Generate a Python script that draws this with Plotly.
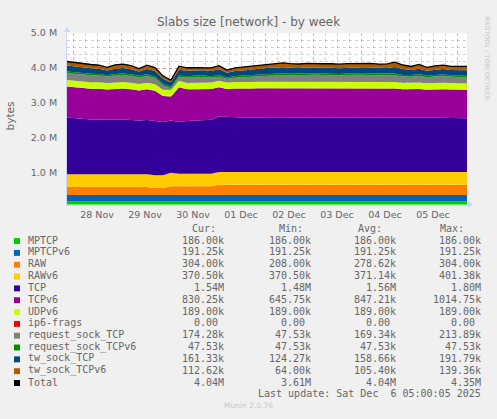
import numpy as np
import pandas as pd
import plotly.graph_objects as go

W, H = 497, 419

# one sample every 4 hours, Nov 27 21:00 -> Dec 6 05:00 (values in k, base 1024)
times = pd.date_range("2025-11-27 21:00", periods=51, freq="4h")

mptcp = [186.0, 186.0, 186.0, 186.0, 186.0, 186.0, 186.0, 186.0, 186.0, 186.0,
         186.0, 186.0, 186.0, 186.0, 186.0, 186.0, 186.0, 186.0, 186.0, 186.0,
         186.0, 186.0, 186.0, 186.0, 186.0, 186.0, 186.0, 186.0, 186.0, 186.0,
         186.0, 186.0, 186.0, 186.0, 186.0, 186.0, 186.0, 186.0, 186.0, 186.0,
         186.0, 186.0, 186.0, 186.0, 186.0, 186.0, 186.0, 186.0, 186.0, 186.0,
         186.0]
mptcpv6 = [191.25, 191.25, 191.25, 191.25, 191.25, 191.25, 191.25, 191.25, 191.25, 191.25,
           191.25, 191.25, 191.25, 191.25, 191.25, 191.25, 191.25, 191.25, 191.25, 191.25,
           191.25, 191.25, 191.25, 191.25, 191.25, 191.25, 191.25, 191.25, 191.25, 191.25,
           191.25, 191.25, 191.25, 191.25, 191.25, 191.25, 191.25, 191.25, 191.25, 191.25,
           191.25, 191.25, 191.25, 191.25, 191.25, 191.25, 191.25, 191.25, 191.25, 191.25,
           191.25]
raw = [240, 240, 240, 240, 240, 240, 240, 240, 240, 240,
       240, 208, 208, 256, 256, 256, 256, 256, 256, 304,
       304, 304, 304, 304, 304, 304, 304, 304, 304, 304,
       304, 304, 304, 304, 304, 304, 304, 304, 304, 304,
       304, 304, 304, 304, 304, 304, 304, 304, 304, 304,
       304]
rawv6 = [370.5, 370.5, 370.5, 370.5, 370.5, 370.5, 370.5, 370.5, 370.5, 370.5,
         370.5, 370.5, 370.5, 401.38, 370.5, 370.5, 370.5, 370.5, 370.5, 370.5,
         370.5, 370.5, 370.5, 370.5, 370.5, 370.5, 370.5, 370.5, 370.5, 370.5,
         370.5, 370.5, 370.5, 370.5, 370.5, 370.5, 370.5, 370.5, 370.5, 370.5,
         370.5, 370.5, 370.5, 370.5, 370.5, 370.5, 370.5, 370.5, 370.5, 370.5,
         370.5]
tcp = [1660, 1640, 1610, 1600, 1605, 1590, 1595, 1600, 1590, 1575,
       1590, 1585, 1560, 1530, 1515, 1540, 1560, 1575, 1580, 1625,
       1610, 1600, 1595, 1600, 1605, 1600, 1598, 1602, 1596, 1600,
       1598, 1603, 1600, 1597, 1595, 1600, 1602, 1598, 1600, 1596,
       1600, 1604, 1598, 1590, 1595, 1588, 1592, 1590, 1585, 1580,
       1577]
tcpv6 = [910, 900, 915, 905, 900, 890, 905, 910, 900, 880,
         900, 890, 760, 700, 1014.75, 930, 915, 905, 900, 860,
         820, 845, 845, 845, 850, 855, 858, 852, 850, 845,
         855, 850, 848, 852, 845, 850, 855, 850, 848, 852,
         850, 845, 825, 840, 835, 820, 830, 838, 835, 832,
         830]
udpv6 = [189.0, 189.0, 189.0, 189.0, 189.0, 189.0, 189.0, 189.0, 189.0, 189.0,
         189.0, 189.0, 189.0, 189.0, 189.0, 189.0, 189.0, 189.0, 189.0, 189.0,
         189.0, 189.0, 189.0, 189.0, 189.0, 189.0, 189.0, 189.0, 189.0, 189.0,
         189.0, 189.0, 189.0, 189.0, 189.0, 189.0, 189.0, 189.0, 189.0, 189.0,
         189.0, 189.0, 189.0, 189.0, 189.0, 189.0, 189.0, 189.0, 189.0, 189.0,
         189.0]
ip6_frags = [0, 0, 0, 0, 0, 0, 0, 0, 0, 0,
             0, 0, 0, 0, 0, 0, 0, 0, 0, 0,
             0, 0, 0, 0, 0, 0, 0, 0, 0, 0,
             0, 0, 0, 0, 0, 0, 0, 0, 0, 0,
             0, 0, 0, 0, 0, 0, 0, 0, 0, 0,
             0]
req_sock_tcp = [200, 205, 198, 202, 195, 185, 200, 205, 200, 190,
                200, 185, 120, 47.53, 110, 150, 160, 165, 140, 120,
                105, 130, 150, 160, 175, 190, 195, 200, 198, 195,
                200, 205, 200, 198, 195, 200, 205, 213.89, 200, 195,
                190, 200, 185, 175, 195, 180, 185, 190, 180, 178,
                174.28]
req_sock_tcpv6 = [47.53, 47.53, 47.53, 47.53, 47.53, 47.53, 47.53, 47.53, 47.53, 47.53,
                  47.53, 47.53, 47.53, 47.53, 47.53, 47.53, 47.53, 47.53, 47.53, 47.53,
                  47.53, 47.53, 47.53, 47.53, 47.53, 47.53, 47.53, 47.53, 47.53, 47.53,
                  47.53, 47.53, 47.53, 47.53, 47.53, 47.53, 47.53, 47.53, 47.53, 47.53,
                  47.53, 47.53, 47.53, 47.53, 47.53, 47.53, 47.53, 47.53, 47.53, 47.53,
                  47.53]
tw_sock_tcp = [175, 170, 165, 160, 150, 135, 155, 160, 150, 124.27,
               155, 160, 150, 130, 170, 155, 150, 145, 150, 165,
               135, 145, 150, 150, 155, 165, 175, 180, 175, 170,
               175, 170, 168, 172, 170, 168, 165, 170, 175, 168,
               172, 191.79, 170, 150, 165, 140, 155, 160, 150, 158,
               161.33]
tw_sock_tcpv6 = [120, 115, 110, 110, 105, 95, 110, 115, 105, 90,
                 110, 100, 80, 64, 100, 90, 85, 85, 90, 110,
                 80, 95, 100, 100, 105, 115, 120, 125, 120, 118,
                 115, 120, 118, 115, 118, 120, 115, 118, 120, 115,
                 118, 139.36, 120, 100, 125, 100, 110, 115, 105, 110,
                 112.62]

series_names = ["MPTCP", "MPTCPv6", "RAW", "RAWv6", "TCP", "TCPv6", "UDPv6",
                "ip6-frags", "request_sock_TCP", "request_sock_TCPv6",
                "tw_sock_TCP", "tw_sock_TCPv6"]
series_values = [mptcp, mptcpv6, raw, rawv6, tcp, tcpv6, udpv6, ip6_frags,
                 req_sock_tcp, req_sock_tcpv6, tw_sock_tcp, tw_sock_tcpv6]
series_colors = ["#00CC00", "#0066B3", "#FF8000", "#FFCC00", "#330099", "#990099",
                 "#CCFF00", "#FF0000", "#808080", "#008F00", "#00487D", "#B35A00"]

# legend table (as printed by munin)
legend_names = series_names + ["Total"]
legend_colors = series_colors + ["#000000"]
cur_vals = ["186.00k", "191.25k", "304.00k", "370.50k", "1.54M", "830.25k", "189.00k",
            "0.00\u00a0", "174.28k", "47.53k", "161.33k", "112.62k", "4.04M"]
min_vals = ["186.00k", "191.25k", "208.00k", "370.50k", "1.48M", "645.75k", "189.00k",
            "0.00\u00a0", "47.53k", "47.53k", "124.27k", "64.00k", "3.61M"]
avg_vals = ["186.00k", "191.25k", "278.62k", "371.14k", "1.56M", "847.21k", "189.00k",
            "0.00\u00a0", "169.34k", "47.53k", "158.66k", "105.40k", "4.04M"]
max_vals = ["186.00k", "191.25k", "304.00k", "401.38k", "1.80M", "1014.75k", "189.00k",
            "0.00\u00a0", "213.89k", "47.53k", "191.79k", "139.36k", "4.35M"]

y_tickvals = [1, 2, 3, 4, 5]
y_ticktext = ["1.0 M", "2.0 M", "3.0 M", "4.0 M", "5.0 M"]

FONT = "DejaVu Sans"
MONO = "DejaVu Sans Mono"
TXT = "#666666"
AXIS = "#CFD6F8"

# plot area in pixels
PL, PR, PT, PB = 67, 467, 27.5, 201.5


def px(x):
    return x / W


def py(y):
    return 1 - y / H


fig = go.Figure()

for name, vals, color in zip(series_names, series_values, series_colors):
    fig.add_trace(go.Scatter(
        x=times, y=np.array(vals, dtype=float) / 1024, name=name,
        mode="lines", stackgroup="slabs", line=dict(width=0, color=color),
        fillcolor=color, hoverinfo="skip",
    ))

total = np.sum([np.array(v, dtype=float) for v in series_values], axis=0) / 1024
fig.add_trace(go.Scatter(x=times, y=total, name="Total", mode="lines",
                         line=dict(color="#000000", width=1.3), hoverinfo="skip"))

fig.update_layout(
    width=W, height=H, showlegend=False,
    margin=dict(l=0, r=0, t=0, b=0),
    paper_bgcolor="#F0F0F0", plot_bgcolor="#FFFFFF",
    font=dict(family=FONT, color=TXT, size=9.5),
    xaxis=dict(
        domain=[px(PL), px(PR)], type="date",
        range=[times[0], times[-1]],
        dtick=86400000, tick0="2025-11-28", tickformat="%d %b",
        ticklabelmode="period", ticks="", ticklabelstandoff=1,
        showgrid=True, gridcolor="rgba(255,90,90,0.55)", griddash="dot", gridwidth=1,
        minor=dict(dtick=6 * 3600000, showgrid=True, gridcolor="rgba(150,150,150,0.45)",
                   griddash="dot", gridwidth=1),
        showline=True, linecolor=AXIS, linewidth=1,
        tickfont=dict(family=FONT, color=TXT, size=9.5),
    ),
    yaxis=dict(
        domain=[py(PB), py(PT)], range=[0.096, 5.0],
        tickvals=y_tickvals, ticktext=y_ticktext, ticks="", ticklabelstandoff=7,
        showgrid=True, gridcolor="rgba(255,90,90,0.55)", griddash="dot", gridwidth=1,
        minor=dict(dtick=0.2, tick0=0, showgrid=True, gridcolor="rgba(150,150,150,0.45)",
                   griddash="dot", gridwidth=1),
        showline=True, linecolor=AXIS, linewidth=1, zeroline=False,
        tickfont=dict(family=FONT, color=TXT, size=9.5),
    ),
)

ann = []
ann.append(dict(text="Slabs size [network] - by week", x=px(248.5), y=py(16.5),
                font=dict(family=FONT, size=12, color=TXT)))
ann.append(dict(text="bytes", x=px(10), y=py(112), textangle=-90,
                font=dict(family=FONT, size=10.5, color=TXT)))
ann.append(dict(text="RRDTOOL / TOBI OETIKER", x=px(487), y=py(53), textangle=90,
                font=dict(family=FONT, size=6.5, color="#C8C8C8")))

# legend header
ROW0 = 237.5
for label, right in [("Cur:", 218), ("Min:", 305), ("Avg:", 384), ("Max:", 466)]:
    ann.append(dict(text=label, x=px(right), y=py(ROW0 - 12), xanchor="right",
                    font=dict(family=MONO, size=10, color=TXT)))

shapes = []
for i, name in enumerate(legend_names):
    yr = ROW0 + 12 * i
    ann.append(dict(text=name, x=px(26), y=py(yr), xanchor="left",
                    font=dict(family=MONO, size=10, color=TXT)))
    for vals, right in [(cur_vals, 226), (min_vals, 312.7), (avg_vals, 397.7), (max_vals, 482.7)]:
        ann.append(dict(text=vals[i], x=px(right), y=py(yr), xanchor="right",
                        font=dict(family=MONO, size=10, color=TXT)))
    shapes.append(dict(type="rect", xref="paper", yref="paper",
                       x0=px(14), x1=px(20), y0=py(yr + 4), y1=py(yr - 2),
                       fillcolor=legend_colors[i], line=dict(width=0)))

ann.append(dict(text="Last update: Sat Dec \u00a06 05:00:05 2025", x=px(482.7),
                y=py(ROW0 + 12 * 13), xanchor="right",
                font=dict(family=MONO, size=10, color=TXT)))
ann.append(dict(text="Munin 2.0.76", x=px(248), y=py(405),
                font=dict(family=FONT, size=7.5, color="#C8C8C8")))

for a in ann:
    a.update(xref="paper", yref="paper", showarrow=False)
    a.setdefault("xanchor", "center")
    a.setdefault("yanchor", "middle")

# axis arrow heads
shapes.append(dict(type="path", xref="paper", yref="paper",
                   path=f"M {px(468)} {py(PB - 3.5)} L {px(473)} {py(PB)} L {px(468)} {py(PB + 3.5)} Z",
                   fillcolor=AXIS, line=dict(width=0)))
shapes.append(dict(type="path", xref="paper", yref="paper",
                   path=f"M {px(63.5)} {py(PT - 1)} L {px(67)} {py(PT - 6)} L {px(70.5)} {py(PT - 1)} Z",
                   fillcolor=AXIS, line=dict(width=0)))

fig.update_layout(annotations=ann, shapes=shapes, hovermode=False)

# page margin off so the figure sits at the window's top-left corner
fig.write_html("out.html", config={"displayModeBar": False},
               post_script="document.body.style.margin='0px';"
                           "document.body.style.overflow='hidden';")
